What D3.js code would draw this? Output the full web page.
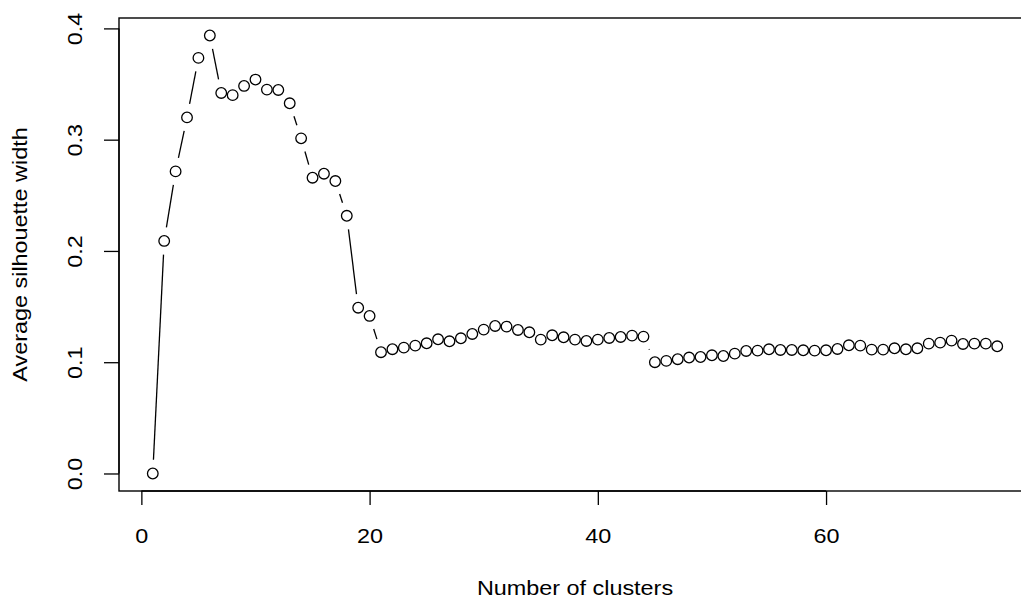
<!DOCTYPE html>
<html>
<head>
<meta charset="utf-8">
<script src="https://cdn.jsdelivr.net/npm/d3@7"></script>
<style>
  html, body { margin: 0; padding: 0; background: #fff; }
  svg { display: block; }
  text { font-family: "Liberation Sans", Arial, Helvetica, sans-serif; fill: #000; }
</style>
</head>
<body>
<svg id="chart" width="1021" height="601"></svg>
<script>
// Number of clusters (k) evaluated
const clusters = d3.range(1, 76);

// Average silhouette width for each k
const silhouette = [
  0.000, 0.209, 0.2715, 0.320, 0.3735, 0.3936, 0.342, 0.340, 0.3483, 0.354,
  0.345, 0.3447, 0.3327, 0.3012, 0.2658, 0.2694, 0.2628, 0.2316, 0.149, 0.1416,
  0.109, 0.1117, 0.1131, 0.1149, 0.117, 0.1206, 0.1188, 0.1215, 0.1254, 0.1293,
  0.1326, 0.132, 0.129, 0.1269, 0.1203, 0.1242, 0.1224, 0.1203, 0.1191, 0.1203,
  0.1218, 0.1227, 0.1239, 0.123, 0.1000, 0.1012, 0.1027, 0.1042, 0.1047, 0.1062,
  0.1056, 0.1077, 0.1101, 0.1104, 0.1116, 0.111, 0.111, 0.1107, 0.1104, 0.1107,
  0.1119, 0.1152, 0.1149, 0.1113, 0.1113, 0.1125, 0.1116, 0.1125, 0.1167, 0.1176,
  0.1194, 0.1164, 0.1167, 0.1167, 0.1143
];

// Axis tick values
const xTicks = [0, 20, 40, 60];
const yTicks = [0.0, 0.1, 0.2, 0.3, 0.4];
const yTickLabels = ["0.0", "0.1", "0.2", "0.3", "0.4"];

const xTitle = "Number of clusters";
const yTitle = "Average silhouette width";

const svg = d3.select("#chart");

// Plot region (right edge of the frame runs past the canvas)
const plotLeft = 119, plotRight = 1031, plotTop = 18, plotBottom = 491;

// Text: slightly widened sans-serif
const fontSize = 19.5;
const widen = 1.2;

// Pad the data range by 4% on each side
function padded(ext) {
  const d = (ext[1] - ext[0]) * 0.04;
  return [ext[0] - d, ext[1] + d];
}

const x = d3.scaleLinear().domain(padded(d3.extent(clusters))).range([plotLeft, plotRight]);
const y = d3.scaleLinear().domain(padded(d3.extent(silhouette))).range([plotBottom, plotTop]);

const pts = clusters.map((k, i) => ({ k, v: silhouette[i], px: x(k), py: y(silhouette[i]) }));

// Connecting segments, shortened near each point marker
const gap = 13.7;
const segs = [];
for (let i = 0; i < pts.length - 1; i++) {
  const a = pts[i], b = pts[i + 1];
  const dx = b.px - a.px, dy = b.py - a.py;
  const d = Math.hypot(dx, dy);
  if (d > 2 * gap) {
    const ux = dx / d, uy = dy / d;
    segs.push({ x1: a.px + ux * gap, y1: a.py + uy * gap, x2: b.px - ux * gap, y2: b.py - uy * gap });
  }
}

svg.append("g")
  .selectAll("line")
  .data(segs)
  .join("line")
  .attr("x1", d => d.x1).attr("y1", d => d.y1)
  .attr("x2", d => d.x2).attr("y2", d => d.y2)
  .attr("stroke", "#000")
  .attr("stroke-width", 1.3);

// Open circle markers
svg.append("g")
  .selectAll("circle")
  .data(pts)
  .join("circle")
  .attr("cx", d => d.px)
  .attr("cy", d => d.py)
  .attr("r", 5.3)
  .attr("fill", "none")
  .attr("stroke", "#000")
  .attr("stroke-width", 1.3);

// Frame
svg.append("rect")
  .attr("x", plotLeft).attr("y", plotTop)
  .attr("width", plotRight - plotLeft).attr("height", plotBottom - plotTop)
  .attr("fill", "none")
  .attr("stroke", "#000")
  .attr("stroke-width", 1.4);

// X axis
const xAxis = d3.axisBottom(x)
  .tickValues(xTicks)
  .tickFormat(d3.format("d"))
  .tickSize(14);

const gx = svg.append("g")
  .attr("transform", `translate(0,${plotBottom})`)
  .call(xAxis);
gx.select(".domain")
  .attr("d", `M${x(xTicks[0])},0H${x(xTicks[xTicks.length - 1])}`)
  .attr("stroke", "#000").attr("stroke-width", 1.3);
gx.selectAll(".tick line").attr("stroke", "#000").attr("stroke-width", 1.3);
gx.selectAll(".tick text")
  .attr("font-size", fontSize)
  .attr("font-family", "Liberation Sans, Arial, sans-serif")
  .attr("fill", "#000")
  .attr("y", null).attr("dy", null)
  .attr("transform", `translate(0,${543 - plotBottom}) scale(${widen},1)`);

// Y axis
const yAxis = d3.axisLeft(y)
  .tickValues(yTicks)
  .tickFormat((d, i) => yTickLabels[i])
  .tickSize(15);

const gy = svg.append("g")
  .attr("transform", `translate(${plotLeft},0)`)
  .call(yAxis);
gy.select(".domain")
  .attr("d", `M0,${y(yTicks[0])}V${y(yTicks[yTicks.length - 1])}`)
  .attr("stroke", "#000").attr("stroke-width", 1.3);
gy.selectAll(".tick line").attr("stroke", "#000").attr("stroke-width", 1.3);
gy.selectAll(".tick text")
  .attr("font-size", fontSize)
  .attr("font-family", "Liberation Sans, Arial, sans-serif")
  .attr("fill", "#000")
  .attr("x", null).attr("dy", null)
  .attr("text-anchor", "middle")
  .attr("transform", `translate(${81.5 - plotLeft},0) rotate(-90) scale(${widen},1)`);

// Axis titles
svg.append("text")
  .attr("transform", `translate(${(plotLeft + plotRight) / 2},595) scale(${widen},1)`)
  .attr("text-anchor", "middle")
  .attr("font-size", fontSize)
  .text(xTitle);

svg.append("text")
  .attr("transform", `translate(27,${(plotTop + plotBottom) / 2}) rotate(-90) scale(${widen},1)`)
  .attr("text-anchor", "middle")
  .attr("font-size", fontSize)
  .text(yTitle);
</script>
</body>
</html>
